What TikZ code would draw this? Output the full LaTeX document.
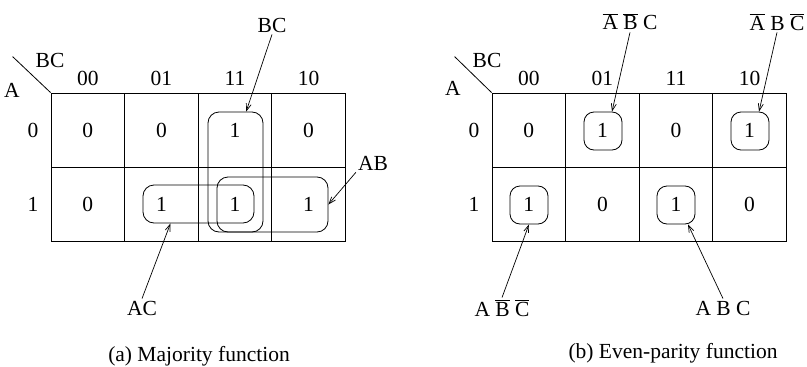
\documentclass[tikz,border=0pt]{standalone}
\usepackage{fontspec}
\setmainfont{Liberation Serif}
\usepackage{tikz}
\usetikzlibrary{arrows.meta,positioning}
\newcommand{\nt}[1]{$\overline{\mbox{#1}}$}

\begin{document}
\begin{tikzpicture}[x=1pt, y=-1pt,
          font=\fontsize{21.5}{26}\selectfont,
          cell/.style={draw, line width=0.8pt, inner sep=0pt,
                       minimum width=73.6pt, minimum height=74pt},
          grp/.style={draw, line width=0.8pt, rounded corners=11pt,
                      inner sep=0pt},
          lbl/.style={inner sep=2pt},
          pointer/.style={-{Straight Barb[length=7pt,width=5pt]},
                          line width=0.7pt}]
        \useasboundingbox (0,0) rectangle (807,367);
        % (a) majority function
        \foreach \v [count=\i from 0] in {0,0,1,0}
          \node[cell] (m0\i) at (87.8+73.6*\i,130) {\v};
        \foreach \v [count=\i from 0] in {0,1,1,1}
          \node[cell] (m1\i) at (87.8+73.6*\i,204) {\v};
        \foreach \c [count=\i from 0] in {00,01,11,10}
          \node[lbl, above=5pt of m0\i.north] (mc\i) {\c};
        \node[lbl, left=10pt of m00.west] (mr0) {0};
        \node[lbl, left=10pt of m10.west] (mr1) {1};
        \draw[line width=0.8pt] (m00.north west) -- ++(-38,-36) coordinate (mdiag);
        \node[lbl] (mbc) at (50,60) {BC};
        \node[lbl] (ma) at (12,90) {A};
        \node[grp, minimum width=55pt, minimum height=120pt] (bcloop) at (235.5,172) {};
        \node[grp, minimum width=111pt, minimum height=38pt] (acloop) at (198.5,204) {};
        \node[grp, minimum width=111pt, minimum height=55pt] (abloop) at (272.5,204.5) {};
        \node[lbl] (bclab) at (272,25) {BC};
        \node[lbl] (ablab) at (373,163) {AB};
        \node[lbl] (aclab) at (142,308) {AC};
        \draw[pointer] (bclab.south) -- (bcloop.80);
        \draw[pointer] (ablab.south west) -- (abloop.east);
        \draw[pointer] (aclab.north) -- ([xshift=-28pt]acloop.south);
        \node (capa) at (199,356) {(a) Majority function};
        % (b) even-parity function
        \foreach \v [count=\i from 0] in {0,1,0,1}
          \node[cell] (p0\i) at (528.8+73.6*\i,130) {\v};
        \foreach \v [count=\i from 0] in {1,0,1,0}
          \node[cell] (p1\i) at (528.8+73.6*\i,204) {\v};
        \foreach \c [count=\i from 0] in {00,01,11,10}
          \node[lbl, above=5pt of p0\i.north] (pc\i) {\c};
        \node[lbl, left=10pt of p00.west] (pr0) {0};
        \node[lbl, left=10pt of p10.west] (pr1) {1};
        \draw[line width=0.8pt] (p00.north west) -- ++(-37,-36) coordinate (pdiag);
        \node[lbl] (pbc) at (487,60) {BC};
        \node[lbl] (pa) at (453,88) {A};
        \foreach \n/\pos in {l01/{(603,131)}, l10/{(750,131)},
                             l00/{(529,205)}, l11/{(676,205)}}
          \node[grp, rounded corners=10pt, minimum size=38pt] (\n) at \pos {};
        \node[lbl] (nanbc) at (630,22) {\nt{A} \nt{B} C};
        \node[lbl] (nabnc) at (777,22) {\nt{A} B \nt{C}};
        \node[lbl] (anbnc) at (502,308) {A \nt{B} \nt{C}};
        \node[lbl] (abc) at (723,308) {A B C};
        \draw[pointer] (nanbc.south) -- ([xshift=9pt]l01.north);
        \draw[pointer] (nabnc.south) -- ([xshift=9pt]l10.north);
        \draw[pointer] (anbnc.north) -- (l00.south);
        \draw[pointer] (abc.north) -- ([xshift=12pt]l11.south);
        \node (capb) at (673,353) {(b) Even-parity function};
      \end{tikzpicture}
\end{document}
